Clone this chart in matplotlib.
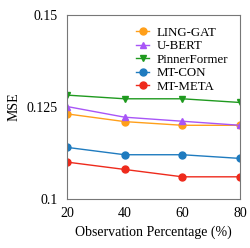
import matplotlib
matplotlib.use("Agg")
import matplotlib.pyplot as plt

plt.rcParams['font.family'] = ['Liberation Serif', 'DejaVu Serif']

obs_pct = [20, 40, 60, 80]
ling_gat = [0.1231, 0.1210, 0.1200, 0.1200]
u_bert = [0.1251, 0.1222, 0.1211, 0.1200]
pinner = [0.1282, 0.1272, 0.1272, 0.1262]
mt_con = [0.1140, 0.1120, 0.1120, 0.1110]
mt_meta = [0.1100, 0.1080, 0.1060, 0.1060]

fig = plt.figure(figsize=(2.5, 2.48), dpi=100)
ax = fig.add_axes([0.268, 0.198, 0.692, 0.742])

ax.plot(obs_pct, ling_gat, '-o', color='#ff9f1a', ms=5, lw=1, label='LING-GAT')
ax.plot(obs_pct, u_bert, '-^', color='#a855f7', ms=5, lw=1, label='U-BERT')
ax.plot(obs_pct, pinner, '-v', color='#1f9a1f', ms=5, lw=1, label='PinnerFormer')
ax.plot(obs_pct, mt_con, '-o', color='#1f7bbf', ms=5, lw=1, label='MT-CON')
ax.plot(obs_pct, mt_meta, '-o', color='#ee2a1c', ms=5, lw=1, label='MT-META')

ax.set_xlim(20, 80)
ax.set_ylim(0.1, 0.15)
ax.set_xticks(obs_pct)
ax.set_yticks([0.1, 0.125, 0.15])
ax.set_yticklabels(['0.1', '0.125', '0.15'])
ax.tick_params(axis='x', length=0, labelsize=10, pad=6)
ax.tick_params(axis='y', length=0, labelsize=10, pad=7)
for s in ax.spines.values():
    s.set_color('#777777')
ax.set_xlabel('Observation Percentage (%)', fontsize=10)
ax.set_ylabel('MSE', fontsize=10)
ax.legend(loc='upper right', frameon=False, fontsize=9.3, handlelength=1.0,
          handletextpad=0.6, labelspacing=0.12, borderaxespad=0.5)

fig.savefig('out.png', dpi=100)
